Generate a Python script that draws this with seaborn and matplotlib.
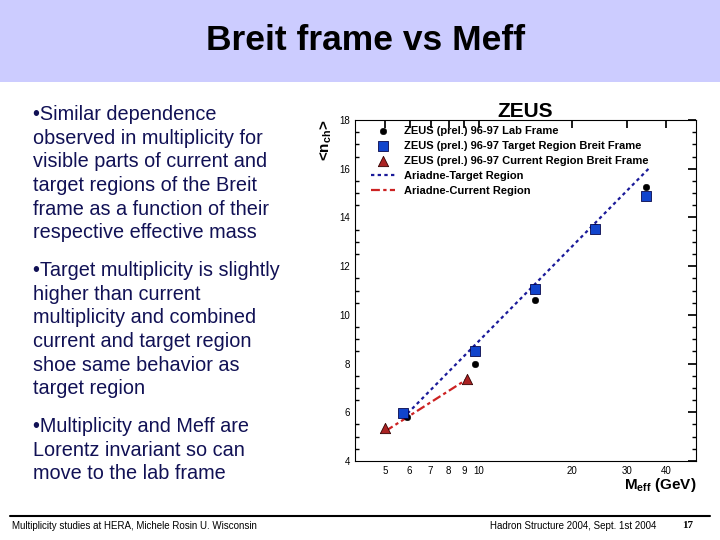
import matplotlib
matplotlib.use("Agg")
import matplotlib.pyplot as plt
import seaborn as sns
import numpy as np
from matplotlib.ticker import FixedLocator, MultipleLocator
from matplotlib.patches import Rectangle

sns.set_theme(style="white")
plt.rcParams['font.family'] = ['Liberation Sans', 'DejaVu Sans']
plt.rcParams['text.color'] = 'black'
plt.rcParams['axes.labelcolor'] = 'black'
plt.rcParams['xtick.color'] = 'black'
plt.rcParams['ytick.color'] = 'black'
plt.rcParams['mathtext.fontset'] = 'custom'
plt.rcParams['mathtext.rm'] = 'Liberation Sans'
plt.rcParams['mathtext.bf'] = 'Liberation Sans:bold'

lab_x = [5.9, 9.7, 15.2, 23.6, 34.5]
lab_y = [5.8, 8.0, 10.6, 13.6, 15.23]
tgt_x = [5.7, 9.7, 15.2, 23.7, 34.6]
tgt_y = [5.96, 8.53, 11.06, 13.53, 14.87]
cur_x = [5.0, 9.2]
cur_y = [5.35, 7.37]
ari_t_x = [5.9, 35.7]
ari_t_y = [5.95, 16.08]
ari_c_x = [5.0, 9.1]
ari_c_y = [5.22, 7.33]
xticks = [5, 6, 7, 8, 9, 10, 20, 30, 40]

fig = plt.figure(figsize=(7.2, 5.4), dpi=100)
fig.patches.append(Rectangle((0, 1 - 82/540), 1, 82/540, transform=fig.transFigure,
                             facecolor="#ccccff", edgecolor="none", zorder=0))
fig.text(0.508, 1 - 40/540, "Breit frame vs Meff", ha="center", va="center",
         fontsize=25.5, fontweight="bold", color="black")

bullets = [
    (105, "\u2022Similar dependence\nobserved in multiplicity for\nvisible parts of current and\ntarget regions of the Breit\nframe as a function of their\nrespective effective mass"),
    (261, "\u2022Target multiplicity is slightly\nhigher than current\nmultiplicity and combined\ncurrent and target region\nshoe same behavior as\ntarget region"),
    (417, "\u2022Multiplicity and Meff are\nLorentz invariant so can\nmove to the lab frame"),
]
for y, t in bullets:
    fig.text(33/720, 1 - y/540, t, ha="left", va="top", fontsize=14.3, color="#111155",
             linespacing=1.31)

fig.add_artist(plt.Line2D([10/720, 710/720], [1 - 516/540]*2, color="black", lw=1.5,
                          transform=fig.transFigure))
fig.text(12/720, 1 - 526/540, "Multiplicity studies at HERA, Michele Rosin U. Wisconsin",
         fontsize=7, va="center")
fig.text(490/720, 1 - 526/540, "Hadron Structure 2004, Sept. 1st 2004", fontsize=7, va="center")
fig.text(682/720, 1 - 526/540, "17", fontsize=8, va="center", family="Liberation Serif",
         fontweight="bold")

ax = fig.add_axes([355/720, 1 - 461/540, 341/720, 341/540])
ax.set_xscale("log")
ax.set_xlim(4, 50)
ax.set_ylim(4, 18)

sns.lineplot(x=ari_t_x, y=ari_t_y, ax=ax, color="#1a1a99", lw=1.6, linestyle=(0, (1.5, 1.5)),
             label="Ariadne-Target Region", zorder=2)
sns.lineplot(x=ari_c_x, y=ari_c_y, ax=ax, color="#cc2222", lw=1.6, linestyle=(0, (4, 1.5, 1.5, 1.5)),
             label="Ariadne-Current Region", zorder=2)
sns.scatterplot(x=lab_x, y=lab_y, ax=ax, marker="o", s=22, color="black", edgecolor="black",
                label="ZEUS (prel.) 96-97 Lab Frame", zorder=3)
sns.scatterplot(x=tgt_x, y=tgt_y, ax=ax, marker="s", s=50, color="#1144cc", edgecolor="#000044",
                label="ZEUS (prel.) 96-97 Target Region Breit Frame", zorder=4)
sns.scatterplot(x=cur_x, y=cur_y, ax=ax, marker="^", s=55, color="#aa2222", edgecolor="#330000",
                label="ZEUS (prel.) 96-97 Current Region Breit Frame", zorder=4)

h, l = ax.get_legend_handles_labels()
order = [2, 3, 4, 0, 1]
ax.legend([h[i] for i in order], [l[i] for i in order], loc="upper left", frameon=False,
          prop={"weight": "bold", "size": 8}, handlelength=2.2,
          labelspacing=0.45, borderaxespad=0.1, bbox_to_anchor=(0.03, 1.0))

ax.xaxis.set_major_locator(FixedLocator(xticks))
ax.xaxis.set_minor_locator(FixedLocator([]))
ax.set_xticklabels([str(v) for v in xticks])
ax.yaxis.set_major_locator(MultipleLocator(2))
ax.yaxis.set_minor_locator(MultipleLocator(0.5))
ax.tick_params(axis="both", which="both", direction="in", top=True, right=True, labelsize=7)
ax.tick_params(which="major", length=6)
ax.tick_params(which="minor", length=3, left=True, right=True)
for s in ax.spines.values():
    s.set_color("black"); s.set_linewidth(0.8)
ax.set_xlabel(r"$\mathbf{M_{eff}}$ (GeV)", fontsize=11, fontweight="bold", loc="right", labelpad=0)
ax.set_ylabel(r"<$\mathbf{n_{ch}}$>", fontsize=11, fontweight="bold", loc="top", labelpad=4)
ax.set_title("ZEUS", fontsize=15, fontweight="bold", pad=2, x=0.5)

fig.savefig("out.png", dpi=100)
